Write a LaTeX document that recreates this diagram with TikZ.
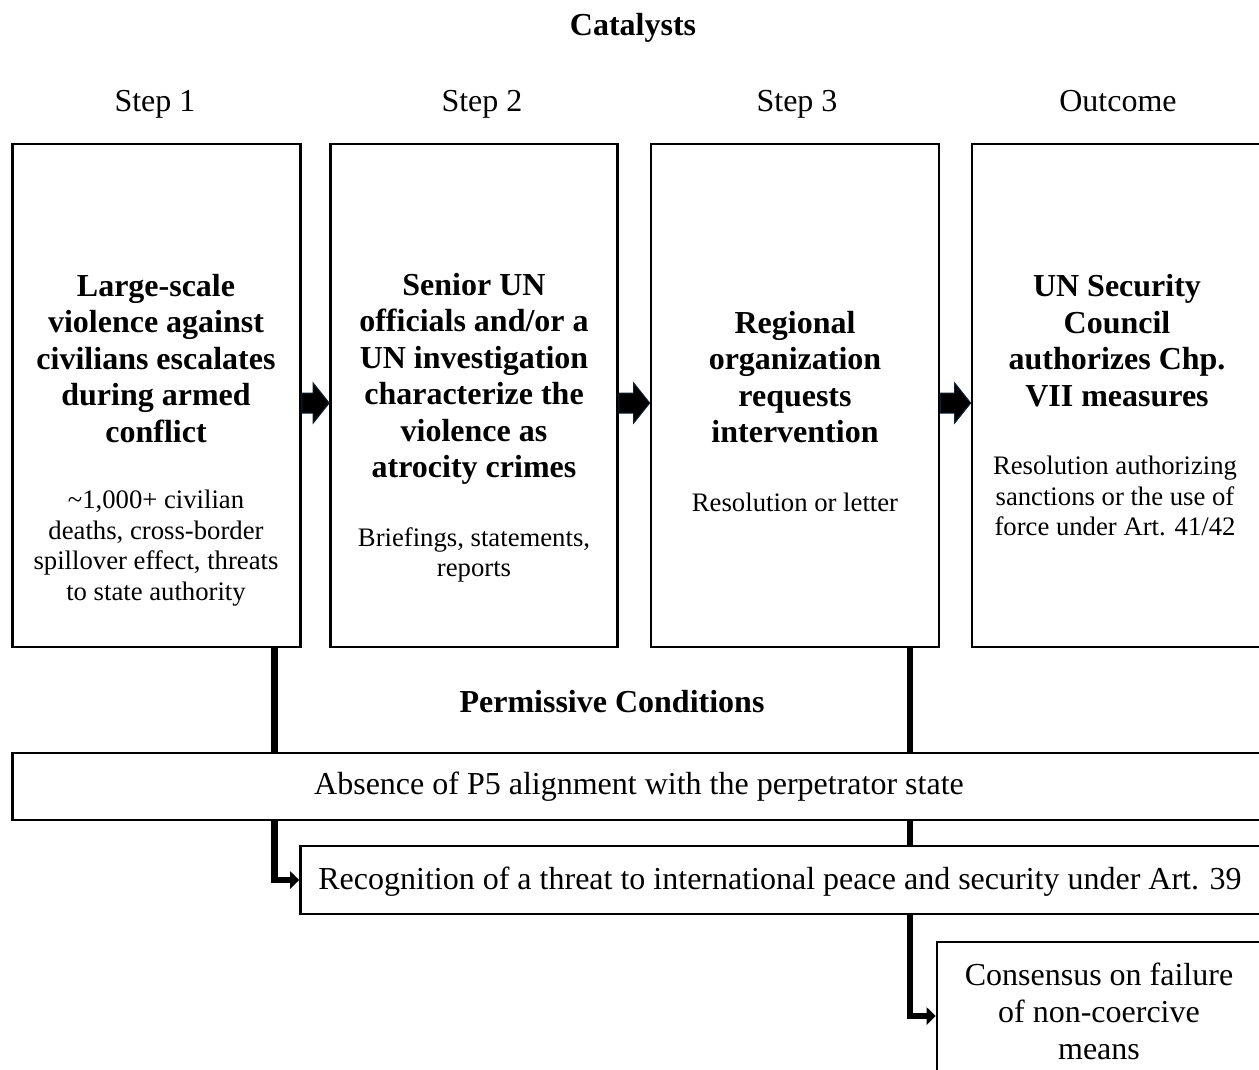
\documentclass[tikz,border=0pt]{standalone}
\usepackage{fontspec}
\setmainfont{Liberation Serif}
\usetikzlibrary{arrows.meta,calc,backgrounds}
\newcommand\blkarrow[2]{%
  \coordinate (as) at ([yshift=-7.5pt]#1.east);
  \coordinate (ae) at ([yshift=-7.5pt]#2.west);
  \coordinate (hb) at ($(ae)+(-16,0)$);
  \draw[blockarr] ($(as)+(0,-10)$) -- ($(as -| hb)+(0,-10)$) -- ($(hb)+(0,-20)$) -- (ae)
     -- ($(hb)+(0,20)$) -- ($(as -| hb)+(0,10)$) -- ($(as)+(0,10)$) -- cycle;}
\begin{document}
\begin{tikzpicture}[x=1pt,y=-1pt,
 box/.style={draw=black,line width=2.6pt,fill=white,inner sep=0pt},
 bigb/.style={font=\fontsize{32}{36.5}\selectfont\bfseries,align=center,inner sep=0pt},
 small/.style={font=\fontsize{26.7}{30.5}\selectfont,align=center,inner sep=0pt},
 big/.style={font=\fontsize{32}{37}\selectfont,align=center,inner sep=0pt},
 conn/.style={line width=6.5pt,draw=black,-{Triangle[length=9pt,width=17pt]}},
 blockarr/.style={fill=black,draw={rgb,255:red,15;green,35;blue,50},line width=1pt,line join=miter}]
\path[use as bounding box] (0,0) rectangle (1259,1069);
\clip (0,0) rectangle (1259,1069);

% headings
\node[bigb] (title) at (633,28) {Catalysts};
\node[big] (s1) at (155,104) {Step 1};
\node[big] (s2) at (482,104) {Step 2};
\node[big] (s3) at (797,104) {Step 3};
\node[big] (s4) at (1118,101) {Outcome};
\node[bigb] (perm) at (612,702) {Permissive Conditions};

% main boxes
\node[box,minimum width=288pt,minimum height=503pt] (b1) at (156.5,395.5) {};
\node[box,minimum width=287pt,minimum height=503pt] (b2) at (474,395.5) {};
\node[box,minimum width=288pt,minimum height=503pt] (b3) at (795,395.5) {};
\node[box,minimum width=298pt,minimum height=503pt] (b4) at (1121,395.5) {};

\node[bigb] (t1) at (156,358.5) {Large-scale\\violence against\\civilians escalates\\during armed\\conflict};
\node[small] (u1) at (156,548) {\textasciitilde1,000+ civilian\\deaths, cross-border\\spillover effect, threats\\to state authority};

\node[bigb] (t2) at (474,379) {Senior UN\\officials and/or a\\UN investigation\\characterize the\\violence as\\atrocity crimes};
\node[small] (u2) at (474,555) {Briefings, statements,\\reports};

\node[bigb] (t3) at (795,377) {Regional\\organization\\requests\\intervention};
\node[small] (u3) at (795,502) {Resolution or letter};

\node[bigb] (t4) at (1117,340.5) {UN Security\\Council\\authorizes Chp.\\VII measures};
\node[small] (u4) at (1115,496) {Resolution authorizing\\sanctions or the use of\\force under Art. 41/42};

% block arrows
\blkarrow{b1}{b2}
\blkarrow{b2}{b3}
\blkarrow{b3}{b4}

% condition boxes
\node[box,minimum width=1262.5pt,minimum height=67pt] (pc) at (643.75,786.5) {};
\node[big] (pct) at (639,787) {Absence of P5 alignment with the perpetrator state};
\node[box,minimum width=974.5pt,minimum height=68pt] (rec) at (787.75,880) {};
\node[big] (rect) at (780,882) {Recognition of a threat to international peace and security under Art. 39};
\node[box,minimum width=338pt,minimum height=148pt] (cons) at (1106,1016) {};
\node[big] (const) at (1099,1011) {Consensus on failure\\of non-coercive\\means};

% connectors
\coordinate (c1) at (274.5,0);
\coordinate (c3) at (910,0);
\begin{pgfonlayer}{background}
\draw[conn] (b1.south -| c1) |- (rec.west);
\draw[conn] (b3.south -| c3) |- (cons.west);
\end{pgfonlayer}
\end{tikzpicture}
\end{document}
